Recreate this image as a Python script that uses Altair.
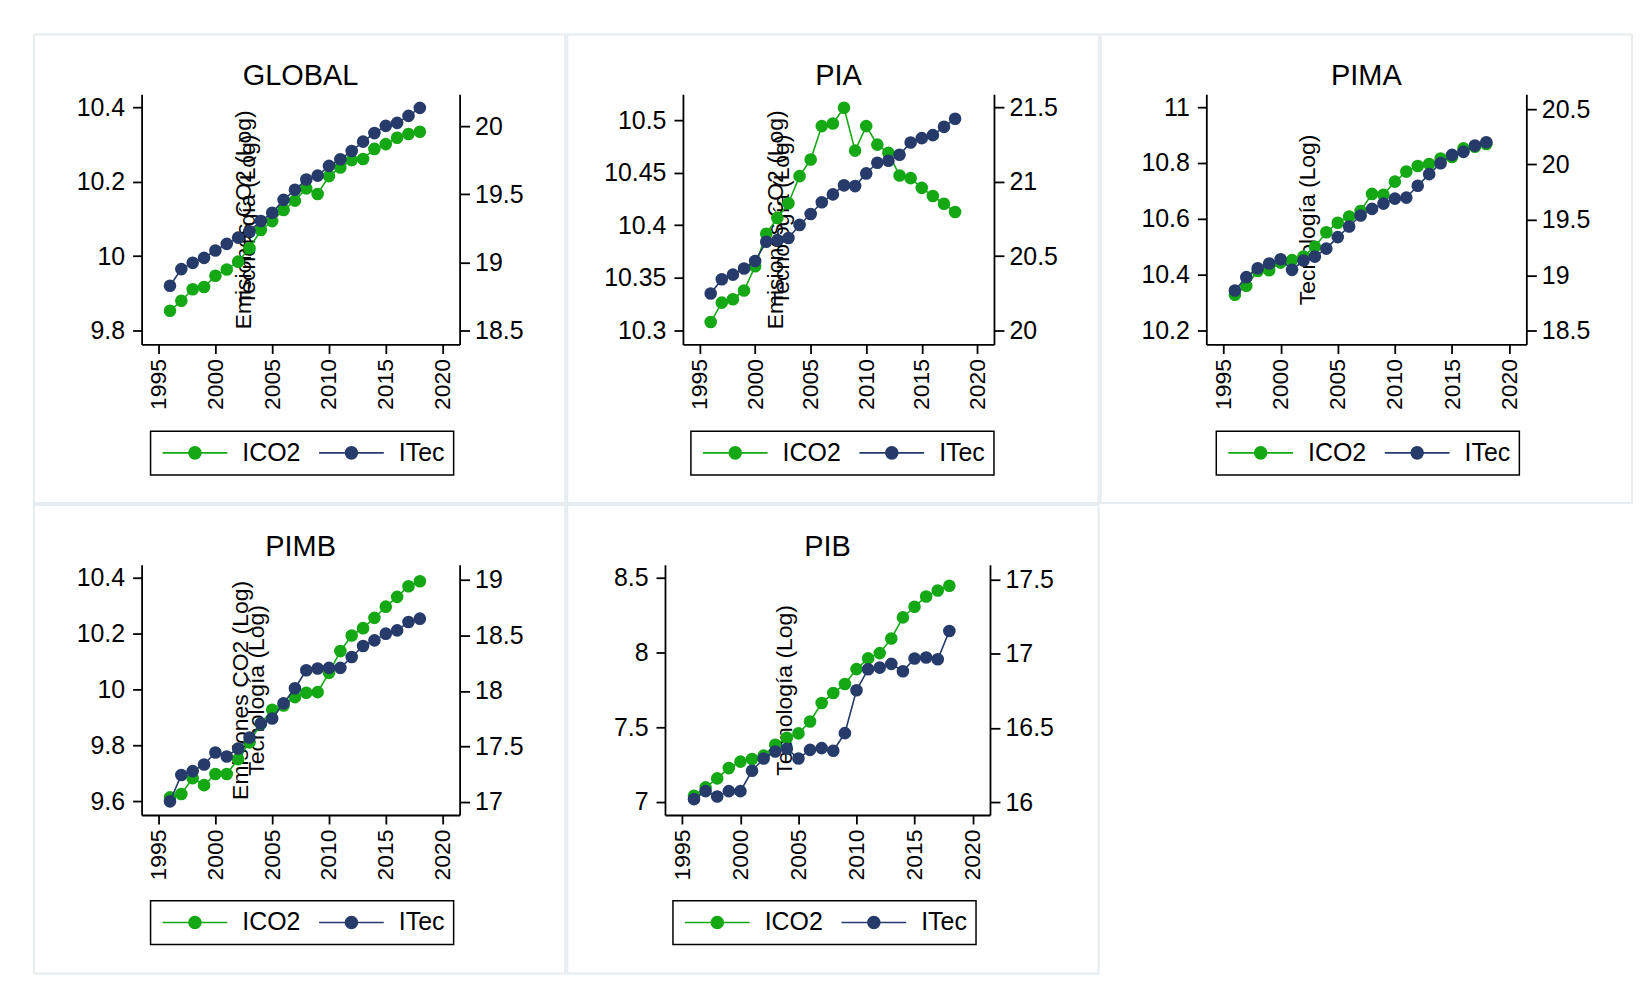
import altair as alt
import pandas as pd

years = list(range(1996, 2019))

global_ico2 = [9.853, 9.880, 9.911, 9.917, 9.947, 9.964, 9.985, 10.021, 10.070, 10.094, 10.124, 10.149,
               10.182, 10.167, 10.215, 10.238, 10.258, 10.261, 10.288, 10.301, 10.318, 10.328, 10.334]
global_itec = [18.829, 18.951, 18.997, 19.033, 19.087, 19.136, 19.182, 19.228, 19.304, 19.364, 19.459, 19.533,
               19.608, 19.637, 19.708, 19.757, 19.817, 19.886, 19.949, 20.002, 20.024, 20.075, 20.134]

pia_ico2 = [10.308, 10.3265, 10.3297, 10.338, 10.361, 10.392, 10.407, 10.421, 10.4467, 10.4625, 10.4943, 10.4968,
            10.5117, 10.471, 10.4943, 10.4767, 10.4688, 10.4473, 10.4448, 10.4356, 10.4278, 10.4205, 10.4126]
pia_itec = [20.248, 20.344, 20.375, 20.416, 20.467, 20.596, 20.607, 20.621, 20.709, 20.782, 20.861, 20.914,
            20.975, 20.970, 21.055, 21.127, 21.140, 21.180, 21.263, 21.292, 21.312, 21.368, 21.422]

pima_ico2 = [10.328, 10.360, 10.413, 10.416, 10.443, 10.452, 10.465, 10.500, 10.552, 10.586, 10.608, 10.628,
             10.689, 10.686, 10.733, 10.769, 10.789, 10.796, 10.816, 10.821, 10.852, 10.858, 10.868]
pima_itec = [18.862, 18.982, 19.063, 19.105, 19.144, 19.048, 19.132, 19.168, 19.240, 19.344, 19.440, 19.539,
             19.599, 19.647, 19.692, 19.701, 19.808, 19.913, 20.012, 20.087, 20.114, 20.171, 20.201]

pimb_ico2 = [9.613, 9.625, 9.682, 9.657, 9.697, 9.697, 9.75, 9.81, 9.877, 9.927, 9.942, 9.972,
             9.988, 9.990, 10.059, 10.137, 10.193, 10.219, 10.256, 10.296, 10.331, 10.369, 10.387]
pimb_itec = [17.006, 17.243, 17.278, 17.338, 17.446, 17.410, 17.482, 17.58, 17.707, 17.751, 17.889, 18.024,
             18.186, 18.201, 18.207, 18.207, 18.305, 18.404, 18.455, 18.515, 18.545, 18.620, 18.650]

pib_ico2 = [7.042, 7.098, 7.158, 7.227, 7.270, 7.288, 7.310, 7.383, 7.43, 7.459, 7.539, 7.662,
            7.729, 7.789, 7.889, 7.961, 7.996, 8.094, 8.235, 8.306, 8.375, 8.415, 8.447]
pib_itec = [16.020, 16.074, 16.038, 16.074, 16.074, 16.211, 16.294, 16.341, 16.36, 16.294, 16.352, 16.364,
            16.346, 16.465, 16.754, 16.896, 16.907, 16.932, 16.882, 16.968, 16.975, 16.963, 17.154]

series_names = ["ICO2", "ITec"]
x_ticks = [1995, 2000, 2005, 2010, 2015, 2020]

GREEN = "#15a815"
NAVY = "#263b69"
FONT = "Liberation Sans"
W, H = 533, 470

panels = [
    dict(name="GLOBAL", left=global_ico2, right=global_itec, xl=108, xr=427,
         ldom=[9.7625, 10.435], rdom=[18.398, 20.234],
         lticks=[9.8, 10, 10.2, 10.4], rticks=[18.5, 19, 19.5, 20],
         em=217, tec=221, lx=117, ly=398),
    dict(name="PIA", left=pia_ico2, right=pia_itec, xl=116, xr=428,
         ldom=[10.2867, 10.5246], rdom=[19.906, 21.587],
         lticks=[10.3, 10.35, 10.4, 10.45, 10.5], rticks=[20, 20.5, 21, 21.5],
         em=216, tec=222, lx=124, ly=398),
    dict(name="PIMA", left=pima_ico2, right=pima_itec, xl=106, xr=427,
         ldom=[10.15, 11.046], rdom=[18.374, 20.635],
         lticks=[10.2, 10.4, 10.6, 10.8, 11], rticks=[18.5, 19, 19.5, 20, 20.5],
         em=None, tec=215, lx=116, ly=398),
    dict(name="PIMB", left=pimb_ico2, right=pimb_itec, xl=108, xr=427,
         ldom=[9.55, 10.446], rdom=[16.883, 19.135],
         lticks=[9.6, 9.8, 10, 10.2, 10.4], rticks=[17, 17.5, 18, 18.5, 19],
         em=214, tec=230, lx=117, ly=397),
    dict(name="PIB", left=pib_ico2, right=pib_itec, xl=98, xr=424,
         ldom=[6.913, 8.587], rdom=[15.913, 17.6],
         lticks=[7, 7.5, 8, 8.5], rticks=[16, 16.5, 17, 17.5],
         em=None, tec=225, lx=106, ly=397),
]

YT, YB = 60, 311
TITLE_Y = 185.5

# legend symbol: line with a filled dot (rings so the stroke fills it)
rings = ""
for r in [0.8, 0.65, 0.5, 0.35, 0.2, 0.06]:
    rings += f"M{-r},0A{r},{r} 0 1,0 {r},0A{r},{r} 0 1,0 {-r},0"
symbol_path = "M-4.33,0L4.33,0" + rings


def make_panel(p):
    x_scale = alt.Scale(domain=[1993.5, 2021.5], range=[p["xl"], p["xr"]], nice=False, zero=False)
    x_axis = alt.Axis(values=x_ticks, format="d", orient="bottom", offset=-(H - YB), grid=False,
                      labelAngle=270, labelAlign="right", labelBaseline="middle",
                      labelPadding=5, tickSize=9, title=None, labelFontSize=23)
    legend = alt.Legend(orient="none", legendX=p["lx"], legendY=p["ly"], direction="horizontal",
                        columns=2, title=None, symbolType=symbol_path, symbolSize=225,
                        symbolStrokeWidth=1.6, symbolOffset=23, labelOffset=35,
                        labelFontSize=25, labelFont=FONT, labelColor="black",
                        columnPadding=14, padding=9, strokeColor="black", fillColor="white",
                        labelLimit=200)
    color = alt.Color("serie:N", scale=alt.Scale(domain=series_names, range=[GREEN, NAVY]),
                      legend=legend)

    df_l = pd.DataFrame({"year": years, "value": p["left"], "serie": "ICO2"})
    df_r = pd.DataFrame({"year": years, "value": p["right"], "serie": "ITec"})

    left_axis = dict(values=p["lticks"], format="~g", orient="left", offset=-p["xl"], grid=False,
                     tickSize=9, labelPadding=8, labelFontSize=25)
    if p["em"] is not None:
        left_axis.update(title="Emisiones CO2 (Log)", titleX=p["em"] - p["xl"], titleY=TITLE_Y,
                         titleAngle=270, titleAlign="center", titleBaseline="alphabetic")
    else:
        left_axis.update(title=None)
    right_axis = dict(values=p["rticks"], format="~g", orient="right", offset=-(W - p["xr"]), grid=False,
                      tickSize=10, labelPadding=5, labelFontSize=25,
                      title="Tecnología (Log)", titleX=p["tec"] - p["xr"], titleY=TITLE_Y,
                      titleAngle=270, titleAlign="center", titleBaseline="alphabetic")

    pt = alt.OverlayMarkDef(filled=True, size=160, opacity=1)
    lay_l = alt.Chart(df_l).mark_line(point=pt, strokeWidth=1.6).encode(
        x=alt.X("year:Q", scale=x_scale, axis=x_axis),
        y=alt.Y("value:Q", scale=alt.Scale(domain=p["ldom"], range=[YB, YT], nice=False, zero=False),
                axis=alt.Axis(**left_axis)),
        color=color,
    )
    lay_r = alt.Chart(df_r).mark_line(point=pt, strokeWidth=1.6).encode(
        x=alt.X("year:Q", scale=x_scale, axis=x_axis),
        y=alt.Y("value:Q", scale=alt.Scale(domain=p["rdom"], range=[YB, YT], nice=False, zero=False),
                axis=alt.Axis(**right_axis)),
        color=color,
    )
    title = alt.Chart(pd.DataFrame({"t": [p["name"]]})).mark_text(
        fontSize=29, font=FONT, align="center", baseline="alphabetic", color="black"
    ).encode(text="t:N", x=alt.value((p["xl"] + p["xr"]) / 2), y=alt.value(50.7))

    return alt.layer(lay_l, lay_r, title).resolve_scale(y="independent").properties(width=W, height=H)


chart = alt.concat(*[make_panel(p) for p in panels], columns=3, spacing=0).resolve_scale(
    color="independent"
).properties(
    padding={"left": 25, "top": 24, "right": 2, "bottom": 2},
    background="white",
).configure(font=FONT).configure_view(
    stroke="#e6ecef", strokeWidth=2
).configure_axis(
    domainColor="black", domainWidth=1.8, tickColor="black", tickWidth=1.8,
    labelColor="black", titleColor="black", labelFont=FONT, titleFont=FONT,
    titleFontSize=23, titleFontWeight="normal"
).configure_legend(strokeWidth=1.5)

chart.save("out.html", embed_options={"renderer": "svg", "actions": False})
